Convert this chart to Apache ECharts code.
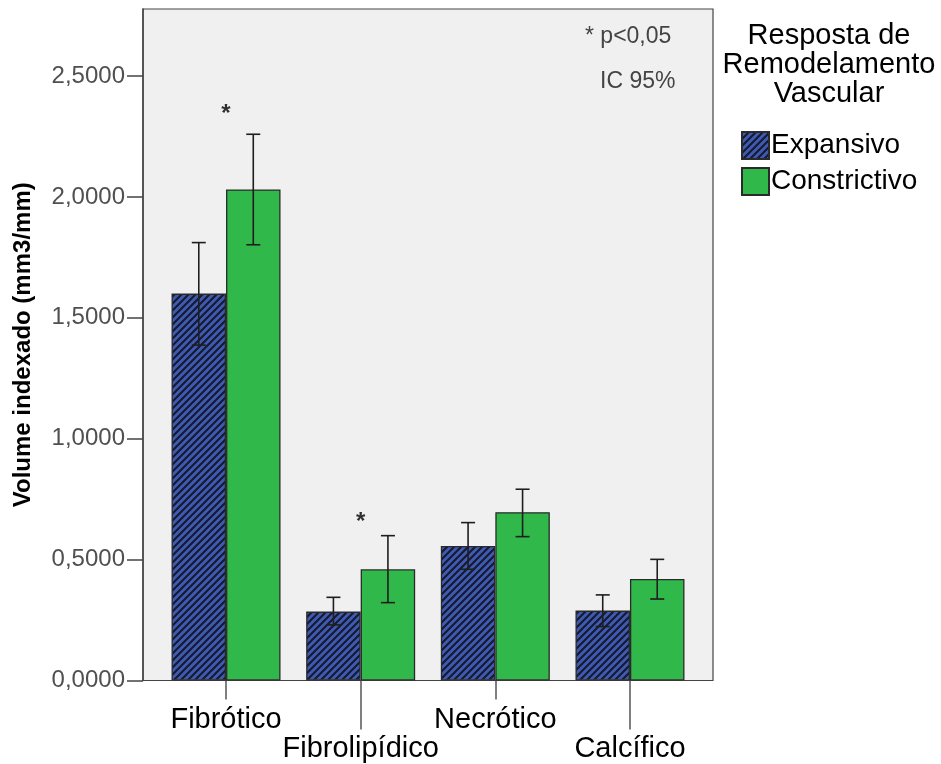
<!DOCTYPE html>
<html>
<head>
<meta charset="utf-8">
<script src="https://cdn.jsdelivr.net/npm/echarts@6/dist/echarts.min.js"></script>
<style>
  html, body { margin: 0; padding: 0; background: #fff; }
  #chart { width: 941px; height: 764px; }
</style>
</head>
<body>
<div id="chart"></div>
<script>
// Plaque component volumes by vascular remodelling response (mean with 95% CI)
const categories = ['Fibrótico', 'Fibrolipídico', 'Necrótico', 'Calcífico'];
const seriesNames = ['Expansivo', 'Constrictivo'];

const expansivoMean  = [1.600, 0.285, 0.556, 0.289];
const expansivoLow   = [1.387, 0.230, 0.460, 0.223];
const expansivoHigh  = [1.811, 0.344, 0.653, 0.354];

const constritivoMean = [2.031, 0.460, 0.696, 0.420];
const constritivoLow  = [1.802, 0.322, 0.595, 0.337];
const constritivoHigh = [2.259, 0.599, 0.791, 0.501];

// significance markers: [category index, value height]
const sigStars = [[0, 2.34], [1, 0.655]];

const yTicks = [0, 0.5, 1.0, 1.5, 2.0, 2.5];
const yMax = 2.777;

const FONT = 'Liberation Sans, Arial, sans-serif';
const BAR_W = 54.5;

// diagonal hatch used for the "Expansivo" bars
function hatchPattern() {
  const s = 7;
  const c = document.createElement('canvas');
  c.width = s; c.height = s;
  const g = c.getContext('2d');
  g.fillStyle = '#3f5ab0';
  g.fillRect(0, 0, s, s);
  g.strokeStyle = '#151a30';
  g.lineWidth = 2.1;
  g.beginPath();
  g.moveTo(-1, s + 1); g.lineTo(s + 1, -1);
  g.moveTo(-1, 1); g.lineTo(1, -1);
  g.moveTo(s - 1, s + 1); g.lineTo(s + 1, s - 1);
  g.stroke();
  return c;
}
const hatch = { image: hatchPattern(), repeat: 'repeat' };
const green = '#31b84b';

function errorSeries(name, low, high, side) {
  return {
    type: 'custom',
    name: name + ' IC',
    xAxisIndex: 1, yAxisIndex: 1,
    z: 10,
    silent: true,
    data: low.map((l, i) => [i, l, high[i]]),
    renderItem: function (params, api) {
      const lo = api.coord([api.value(0), api.value(1)]);
      const hi = api.coord([api.value(0), api.value(2)]);
      const x = lo[0] + side * BAR_W / 2;
      const cap = 7;
      const st = { stroke: '#1e1e1e', lineWidth: 1.6 };
      return {
        type: 'group',
        children: [
          { type: 'line', shape: { x1: x, y1: lo[1], x2: x, y2: hi[1] }, style: st },
          { type: 'line', shape: { x1: x - cap, y1: hi[1], x2: x + cap, y2: hi[1] }, style: st },
          { type: 'line', shape: { x1: x - cap, y1: lo[1], x2: x + cap, y2: lo[1] }, style: st }
        ]
      };
    }
  };
}

const plotTop = 9, plotBottom = 764 - 680.5;
const catAxisBase = {
  type: 'category',
  data: categories,
  axisLine: { show: false },
  splitLine: { show: false }
};

const option = {
  animation: false,
  textStyle: { fontFamily: FONT },
  title: {
    text: 'Resposta de\nRemodelamento\nVascular',
    left: 829, top: 21, textAlign: 'center', padding: 0,
    textStyle: { fontFamily: FONT, fontSize: 29, fontWeight: 'normal', color: '#000', lineHeight: 29 }
  },
  legend: {
    orient: 'vertical',
    left: 736, top: 126,
    itemWidth: 27, itemHeight: 27, itemGap: 7,
    icon: 'rect',
    data: seriesNames,
    textStyle: { fontFamily: FONT, fontSize: 28, color: '#000', padding: [0, 0, 0, -3] }
  },
  grid: [
    // framed plot area with the value axis
    { left: 143, width: 570, top: plotTop, bottom: plotBottom, show: true,
      backgroundColor: '#f0f0f0', borderColor: '#444', borderWidth: 1.2 },
    // bar area (even-index category axis)
    { left: 158.7, width: 538.6, top: plotTop, bottom: plotBottom },
    // same area, odd-index category axis
    { left: 158.7, width: 538.6, top: plotTop, bottom: plotBottom }
  ],
  xAxis: [
    { type: 'value', gridIndex: 0, show: false },
    Object.assign({}, catAxisBase, {
      gridIndex: 1,
      axisTick: { show: true, alignWithLabel: true, length: 19,
        interval: (i) => i % 2 === 0, lineStyle: { color: '#555', width: 1.5 } },
      axisLabel: { interval: (i) => i % 2 === 0, margin: 25, fontSize: 29, color: '#000', fontFamily: FONT }
    }),
    Object.assign({}, catAxisBase, {
      gridIndex: 2,
      axisTick: { show: true, alignWithLabel: true, length: 49,
        interval: (i) => i % 2 === 1, lineStyle: { color: '#555', width: 1.5 } },
      axisLabel: { interval: (i) => i % 2 === 1, margin: 54, fontSize: 29, color: '#000', fontFamily: FONT }
    })
  ],
  yAxis: [
    {
      type: 'value', gridIndex: 0, min: 0, max: yMax,
      name: 'Volume indexado (mm3/mm)',
      nameLocation: 'middle', nameGap: 108, nameRotate: 90,
      nameTextStyle: { fontFamily: FONT, fontSize: 24, fontWeight: 'bold', color: '#000' },
      axisLine: { show: true, lineStyle: { color: '#444', width: 1.5 } },
      axisTick: { show: true, length: 16, customValues: yTicks, lineStyle: { color: '#444', width: 1.5 } },
      axisLabel: { customValues: yTicks, margin: 18, fontSize: 24, color: '#505050', fontFamily: FONT,
        formatter: (v) => v.toFixed(4).replace('.', ',') },
      splitLine: { show: false }
    },
    { type: 'value', gridIndex: 1, min: 0, max: yMax, show: false },
    { type: 'value', gridIndex: 2, min: 0, max: yMax, show: false }
  ],
  series: [
    {
      name: seriesNames[0], type: 'bar', xAxisIndex: 1, yAxisIndex: 1,
      data: expansivoMean, barWidth: BAR_W, barGap: '0%',
      itemStyle: { color: hatch, borderColor: '#2a2a2a', borderWidth: 1.3 }
    },
    {
      name: seriesNames[1], type: 'bar', xAxisIndex: 1, yAxisIndex: 1,
      data: constritivoMean, barWidth: BAR_W, barGap: '0%',
      itemStyle: { color: green, borderColor: '#2a2a2a', borderWidth: 1.3 }
    },
    errorSeries(seriesNames[0], expansivoLow, expansivoHigh, -1),
    errorSeries(seriesNames[1], constritivoLow, constritivoHigh, 1),
    {
      type: 'scatter', xAxisIndex: 1, yAxisIndex: 1, symbolSize: 0, z: 11,
      data: sigStars,
      label: { show: true, position: 'inside', formatter: '*', fontSize: 24,
        fontWeight: 'bold', color: '#000', fontFamily: FONT }
    }
  ],
  graphic: [
    { type: 'text', x: 585, y: 37, style: { text: '* p<0,05', font: '23px ' + FONT, fill: '#444', verticalAlign: 'middle' } },
    { type: 'text', x: 600, y: 82, style: { text: 'IC 95%', font: '23px ' + FONT, fill: '#444', verticalAlign: 'middle' } }
  ]
};

const chart = echarts.init(document.getElementById('chart'), null, { renderer: 'canvas' });
chart.setOption(option);
</script>
</body>
</html>
